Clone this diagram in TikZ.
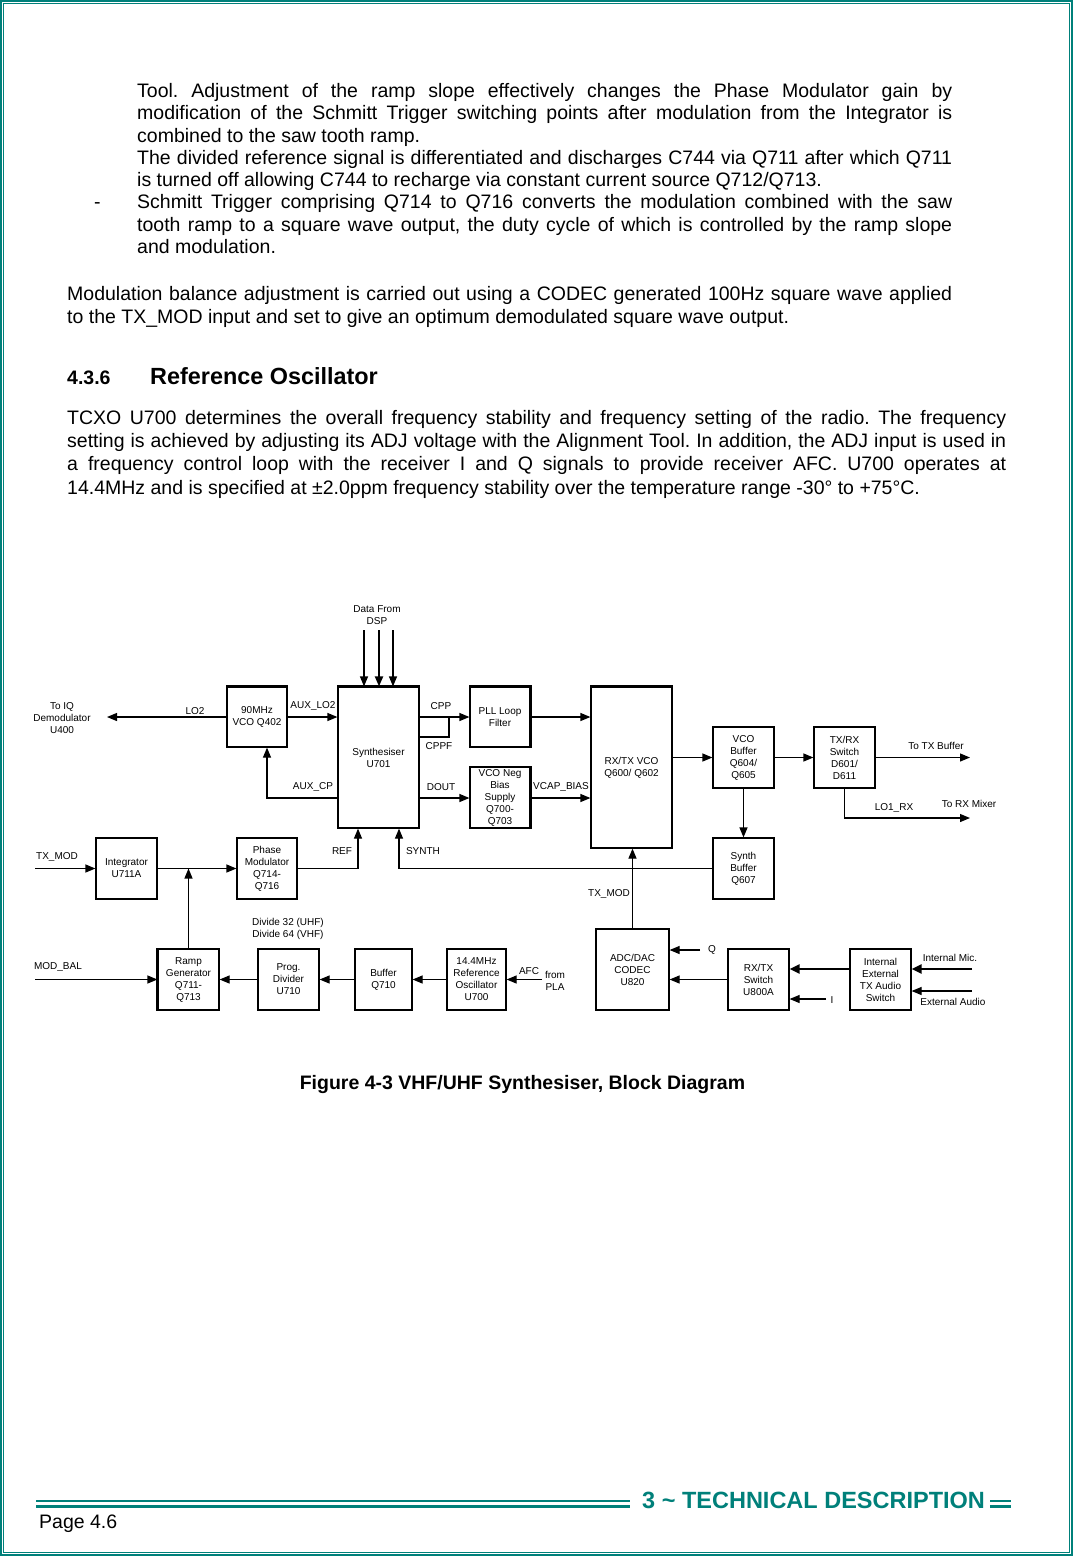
\documentclass[tikz,border=0pt]{standalone}
\usepackage{fontspec}
\setmainfont{Liberation Sans}
\usetikzlibrary{arrows.meta}
\definecolor{tealc}{RGB}{0,128,122}
\newcommand{\dgfont}{\fontsize{10}{12}\selectfont}
\newcommand{\bodyfont}{\fontsize{19.5}{22.5}\selectfont}
\frenchspacing
\begin{document}
\frenchspacing
\begin{tikzpicture}[x=1pt,y=-1pt,
 blk/.style={draw,line width=1.2pt,inner sep=0pt,align=center,font=\dgfont},
 lab/.style={inner sep=0pt,font=\dgfont,align=center},
 arr/.style={line width=1.2pt,-{Triangle[length=10pt,width=8pt]}},
 tarr/.style={line width=2.6pt,-{Triangle[length=10pt,width=9pt]}},
 ln/.style={line width=1.2pt},
 thk/.style={line width=2.6pt},
 body/.style={anchor=base west,inner sep=0pt,font=\bodyfont},
 hd/.style={anchor=base west,inner sep=0pt,font=\fontsize{19.5}{22}\selectfont\bfseries}]
\fill[white] (0,0) rectangle (1073,1556);
\useasboundingbox (0,0) rectangle (1073,1556);
% page border
\draw[tealc,line width=1.6pt] (1,1) rectangle (1072,1555);
\draw[tealc,line width=0.8pt] (3.5,3.5) rectangle (1069.5,1552.5);

% ---------- text ----------
\node[body] (t1) at (137,97) {\makebox[815pt][s]{Tool. Adjustment of the ramp slope effectively changes the Phase Modulator gain by}};
\node[body] (t2) at (137,119.5) {\makebox[815pt][s]{modification of the Schmitt Trigger switching points after modulation from the Integrator is}};
\node[body] (t3) at (137,142) {combined to the saw tooth ramp.};
\node[body] (t4) at (137,164) {\makebox[815pt][s]{The divided reference signal is differentiated and discharges C744 via Q711 after which Q711}};
\node[body] (t5) at (137,186.5) {is turned off allowing C744 to recharge via constant current source Q712/Q713.};
\node[body] (dash) at (94,208.5) {-};
\node[body] (t6) at (137,208.5) {\makebox[815pt][s]{Schmitt Trigger comprising Q714 to Q716 converts the modulation combined with the saw}};
\node[body] (t7) at (137,231) {\makebox[815pt][s]{tooth ramp to a square wave output, the duty cycle of which is controlled by the ramp slope}};
\node[body] (t8) at (137,253.5) {and modulation.};

\node[body] (m1) at (67,300) {\makebox[885pt][s]{Modulation balance adjustment is carried out using a CODEC generated 100Hz square wave applied}};
\node[body] (m2) at (67,323) {to the TX\_MOD input and set to give an optimum demodulated square wave output.};

\node[hd] (hn) at (67,384) {4.3.6};
\node[hd,font=\fontsize{23.4}{26}\selectfont\bfseries] (ht) at (150,384) {Reference Oscillator};

\node[body] (r1) at (67,424) {\makebox[939pt][s]{TCXO U700 determines the overall frequency stability and frequency setting of the radio. The frequency}};
\node[body] (r2) at (67,447) {\makebox[939pt][s]{setting is achieved by adjusting its ADJ voltage with the Alignment Tool. In addition, the ADJ input is used in}};
\node[body] (r3) at (67,470) {\makebox[939pt][s]{a frequency control loop with the receiver I and Q signals to provide receiver AFC. U700 operates at}};
\node[body] (r4) at (67,494) {14.4MHz and is specified at ±2.0ppm frequency stability over the temperature range -30° to +75°C.};

% ---------- blocks ----------
\node[blk,minimum width=60pt,minimum height=60pt] (vco) at (257,717) {90MHz\\VCO Q402};
\node[blk,minimum width=81pt,minimum height=141pt] (syn) at (378.5,757.5) {Synthesiser\\U701};
\node[blk,minimum width=60pt,minimum height=60pt] (pll) at (500,717) {PLL Loop\\Filter};
\node[blk,minimum width=60pt,minimum height=61pt] (neg) at (500,797.5) {VCO Neg\\Bias\\Supply\\Q700-\\Q703};
\node[blk,minimum width=81pt,minimum height=161pt] (rxvco) at (631.5,767.5) {RX/TX VCO\\Q600/ Q602};
\node[blk,minimum width=61pt,minimum height=61pt] (vbuf) at (743.5,757.5) {VCO\\Buffer\\Q604/\\Q605};
\node[blk,minimum width=61pt,minimum height=61pt] (trsw) at (844.5,757.5) {TX/RX\\Switch\\D601/\\D611};
\node[blk,minimum width=61pt,minimum height=61pt] (sbuf) at (743.5,868.5) {Synth\\Buffer\\Q607};
\node[blk,minimum width=61pt,minimum height=61pt] (integ) at (126.5,868.5) {Integrator\\U711A};
\node[blk,minimum width=60pt,minimum height=61pt] (pmod) at (267,868.5) {Phase\\Modulator\\Q714-\\Q716};
\node[blk,minimum width=61pt,minimum height=61pt] (ramp) at (188.5,979.5) {Ramp\\Generator\\Q711-\\Q713};
\node[blk,minimum width=61pt,minimum height=61pt] (prog) at (288.5,979.5) {Prog.\\Divider\\U710};
\node[blk,minimum width=57pt,minimum height=61pt] (buf) at (383.5,979.5) {Buffer\\Q710};
\node[blk,minimum width=59pt,minimum height=61pt] (osc) at (476.5,979.5) {14.4MHz\\Reference\\Oscillator\\U700};
\node[blk,minimum width=73pt,minimum height=81pt] (codec) at (632.5,969.5) {ADC/DAC\\CODEC\\U820};
\node[blk,minimum width=61pt,minimum height=61pt] (rxsw) at (758.5,979.5) {RX/TX\\Switch\\U800A};
\node[blk,minimum width=61pt,minimum height=61pt] (ies) at (880.5,979.5) {Internal\\External\\TX Audio\\Switch};

% thicker edges
\draw[thk] (vco.north west) -- (vco.north east);
\draw[thk] (syn.north west) -- (syn.north east);
\draw[thk] (pll.north west) -- (pll.north east) -- (pll.south east);
\draw[thk] (neg.north east) -- (neg.south east);
\draw[thk] (rxvco.north west) -- (rxvco.north east);
\draw[thk] (ramp.north west) -- (ramp.south west);

% ---------- labels ----------
\node[lab] (iq) at (62,718) {To IQ\\Demodulator\\U400};
\node[lab] (llo2) at (195,711) {LO2};
\node[lab] (lauxlo2) at (313,706) {AUX\_LO2};
\node[lab] (lauxcp) at (313,787) {AUX\_CP};
\node[lab] (ldsp) at (377,615) {Data From\\DSP};
\node[lab] (lcpp) at (441,706) {CPP};
\node[lab] (lcppf) at (439,746) {CPPF};
\node[lab] (ldout) at (441,787) {DOUT};
\node[lab] (lvcap) at (561,787) {VCAP\_BIAS};
\node[lab] (ltxb) at (936,746) {To TX Buffer};
\node[lab] (llo1) at (894,808) {LO1\_RX};
\node[lab] (lrxm) at (969,804) {To RX Mixer};
\node[lab] (ltxmod) at (57,857) {TX\_MOD};
\node[lab] (lref) at (342,851) {REF};
\node[lab] (lsynth) at (423,851) {SYNTH};
\node[lab] (ldiv) at (288,929) {Divide 32 (UHF)\\Divide 64 (VHF)};
\node[lab] (lmodbal) at (58,967) {MOD\_BAL};
\node[lab] (lafc) at (529,971) {AFC};
\node[lab] (lpla) at (555,981) {from\\PLA};
\node[lab] (ltxmod2) at (609,894) {TX\_MOD};
\node[lab] (lq) at (712,950) {Q};
\node[lab] (li) at (832,1000) {I};
\node[lab] (lmic) at (950,958) {Internal Mic.};
\node[lab] (lext) at (953,1002) {External Audio};

% free ends
\coordinate (lo2end) at (107,717);
\coordinate (d1) at (364,630);
\coordinate (d2) at (379,630);
\coordinate (d3) at (393,630);
\coordinate (txbend) at (970,757.5);
\coordinate (rxmend) at (970,818);
\coordinate (txin) at (35,868.5);
\coordinate (mbin) at (35,979.5);
\coordinate (afcin) at (542,979.5);
\coordinate (qin) at (700,950);
\coordinate (iin) at (826,999);
\coordinate (micin) at (972,969);
\coordinate (extin) at (972,991);

% ---------- connectors ----------
\draw[arr] (vco.west) -- (lo2end);
\draw[arr] (vco.east) -- (syn.west |- vco.east);
\draw[arr] (syn.west |- 0,798) -| ([xshift=10pt]vco.south);
\draw[arr] (d1) -- (d1 |- syn.north);
\draw[arr,line width=2pt] (d2) -- (d2 |- syn.north);
\draw[arr] (d3) -- (d3 |- syn.north);
\draw[arr] (syn.east |- pll.west) -- (pll.west);
\draw[ln] (syn.east |- 0,737) -| (449,717);
\draw[arr] (syn.east |- 0,798) -- (neg.west |- 0,798);
\draw[arr] (pll.east) -- (rxvco.west |- pll.east);
\draw[arr] (neg.east |- 0,798) -- (rxvco.west |- 0,798);
\draw[arr] (rxvco.east |- vbuf.west) -- (vbuf.west);
\draw[arr] (vbuf.east) -- (trsw.west);
\draw[arr] (trsw.east) -- (txbend);
\draw[arr] (trsw.south) |- (rxmend);
\draw[arr] (vbuf.south) -- (sbuf.north);
\draw[arr] (sbuf.west) -| ([xshift=20.5pt]syn.south);
\draw[arr] (pmod.east) -| ([xshift=-20.5pt]syn.south);
\draw[arr] (txin) -- (integ.west);
\draw[arr] (integ.east) -- (pmod.west);
\draw[arr] (ramp.north) -- (ramp.north |- integ.east);
\draw[arr] (mbin) -- (ramp.west);
\draw[arr] (prog.west) -- (ramp.east);
\draw[arr] (buf.west) -- (prog.east);
\draw[arr] (osc.west) -- (buf.east);
\draw[arr] (afcin) -- (osc.east);
\draw[arr] (codec.north) -- (codec.north |- rxvco.south);
\draw[arr] (qin) -- (codec.east |- qin);
\draw[arr] (rxsw.west) -- (codec.east |- rxsw.west);
\draw[arr] (iin) -- (rxsw.east |- iin);
\draw[tarr] (ies.west |- micin) -- (rxsw.east |- micin);
\draw[tarr] (micin) -- (ies.east |- micin);
\draw[arr] (extin) -- (ies.east |- extin);

% ---------- caption ----------
\node[inner sep=0pt,anchor=base,font=\fontsize{19.5}{22}\selectfont\bfseries] (cap) at (522.5,1089) {Figure 4-3 VHF/UHF Synthesiser, Block Diagram};

% ---------- footer ----------
\draw[tealc,line width=2.2pt] (36,1501) -- (630,1501);
\draw[tealc,line width=2.2pt] (36,1506.5) -- (630,1506.5);
\draw[tealc,line width=2.2pt] (990,1501) -- (1011,1501);
\draw[tealc,line width=2.2pt] (990,1506.5) -- (1011,1506.5);
\node[inner sep=0pt,anchor=base west,text=tealc,font=\fontsize{23.5}{26}\selectfont\bfseries] (ftxt) at (642,1508) {3 \textasciitilde{} TECHNICAL DESCRIPTION};
\node[body] (page) at (39,1528) {Page 4.6};
\end{tikzpicture}
\end{document}
